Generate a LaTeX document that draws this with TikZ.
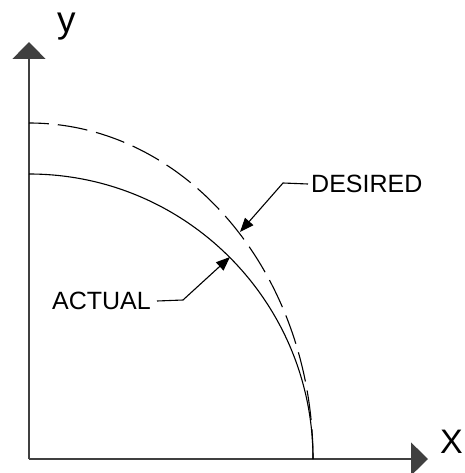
\documentclass[tikz,border=0pt]{standalone}
\usepackage{fontspec}
\setmainfont{Liberation Sans}
\usetikzlibrary{arrows.meta}
\begin{document}
\begin{tikzpicture}[x=1pt,y=-1pt,
  axis/.style={line width=1.2pt,draw=black!75,-{Triangle[length=17pt,width=33pt]}},
  curve/.style={line width=1.1pt},
  desiredcurve/.style={curve,dash pattern=on 30pt off 9pt},
  leader/.style={line width=1.1pt,draw=black,-{Triangle[length=14pt,width=11pt]}},
  leaderlabel/.style={inner sep=0pt,font=\fontsize{25}{30}\selectfont},
  axislabel/.style={inner sep=0pt,font=\fontsize{37}{44}\selectfont}]
\useasboundingbox (0,0) rectangle (464,473);
\coordinate (O) at (29,459);
\coordinate (ytip) at (29,42);
\coordinate (xtip) at (428,459);
\coordinate (xend) at (313,459);
\draw[axis] (O) -- (ytip);
\draw[axis] (O) -- (xtip);
\node[axislabel,anchor=base west] (ylab) at (57,33) {y};
\node[axislabel,anchor=base west,font=\fontsize{34}{40}\selectfont] (xlab) at (440,453) {X};
% curves
\draw[curve] (xend) arc[start angle=0,end angle=90,x radius=284pt,y radius=285pt];
\draw[desiredcurve] (xend) arc[start angle=0,end angle=90,x radius=284pt,y radius=336pt];
% labels
\node[leaderlabel,anchor=west] (des) at (311,184) {DESIRED};
\node[leaderlabel,anchor=east] (act) at (151,301) {ACTUAL};
\coordinate (dbend) at (283,183);
\coordinate (dtip) at (240,232);
\coordinate (abend) at (183,300);
\coordinate (atip) at (230,257);
\draw[leader] ([xshift=-3pt]des.west) -- (dbend) -- (dtip);
\draw[leader] ([xshift=6pt]act.east) -- (abend) -- (atip);
\end{tikzpicture}
\end{document}
